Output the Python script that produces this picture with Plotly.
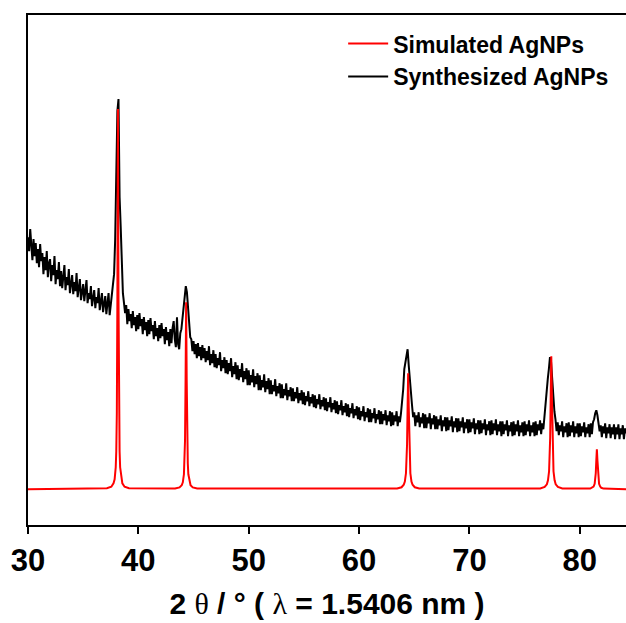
import numpy as np
import plotly.graph_objects as go

# ---------------- data ----------------
# Synthesized AgNPs: measured XRD scan, 2theta from 30.0 in 0.1 deg steps (intensity, a.u.)
scan_start = 30.0
scan_step = 0.1
synth_intensity = [
    252, 238, 260, 241, 229, 250, 233, 246, 226, 240,   # 30
    222, 245, 228, 236, 215, 232, 219, 238, 212, 226,   # 31
    230, 208, 224, 214, 233, 205, 219, 210, 227, 203,   # 32
    218, 201, 215, 224, 199, 212, 204, 220, 196, 208,   # 33
    214, 195, 207, 198, 216, 192, 203, 210, 189, 201,   # 34
    205, 188, 199, 209, 186, 196, 190, 203, 183, 194,   # 35
    199, 181, 192, 186, 201, 179, 190, 196, 177, 188,   # 36
    193, 175, 186, 196, 174, 184, 194, 205, 215, 250,   # 37
    320, 378, 390, 292, 262, 212, 196, 186, 176, 184,   # 38
    165, 180, 168, 175, 161, 178, 164, 172, 158, 174,   # 39
    160, 176, 163, 170, 155, 172, 159, 167, 153, 169,   # 40
    155, 171, 158, 164, 150, 168, 153, 161, 148, 164,   # 41
    151, 166, 153, 160, 145, 162, 149, 157, 143, 160,   # 42
    146, 161, 168, 150, 142, 172, 145, 140, 156, 160,   # 43
    172, 180, 190, 203, 197, 178, 164, 152, 150, 138,   # 44
    148, 135, 145, 131, 146, 133, 142, 129, 144, 131,   # 45
    141, 127, 138, 129, 143, 124, 135, 126, 139, 122,   # 46
    135, 121, 131, 124, 137, 118, 129, 121, 132, 116,   # 47
    129, 115, 126, 118, 131, 112, 123, 115, 127, 110,   # 48
    124, 109, 120, 112, 126, 107, 118, 110, 121, 104,   # 49
    119, 104, 114, 107, 120, 102, 113, 105, 116, 99,    # 50
    114, 99, 109, 102, 115, 97, 108, 100, 111, 95,      # 51
    109, 95, 104, 98, 110, 93, 103, 96, 106, 91,        # 52
    105, 91, 100, 94, 106, 89, 99, 93, 102, 88,         # 53
    101, 88, 97, 91, 102, 86, 96, 89, 99, 85,           # 54
    97, 84, 93, 88, 98, 83, 92, 86, 95, 82,             # 55
    94, 81, 90, 85, 95, 80, 89, 83, 92, 79,             # 56
    91, 78, 87, 82, 92, 77, 86, 80, 89, 76,             # 57
    88, 75, 84, 79, 89, 74, 83, 77, 86, 73,             # 58
    85, 72, 81, 76, 86, 71, 80, 74, 83, 70,             # 59
    82, 69, 78, 73, 83, 68, 77, 72, 81, 67,             # 60
    80, 67, 76, 71, 81, 66, 75, 70, 79, 65,             # 61
    78, 65, 75, 69, 79, 64, 74, 68, 78, 63,             # 62
    77, 64, 74, 68, 78, 63, 73, 67, 76, 86,             # 63
    100, 120, 128, 135, 140, 124, 108, 95, 84, 72,      # 64
    77, 63, 74, 67, 77, 62, 72, 66, 76, 61,             # 65
    75, 61, 72, 66, 76, 60, 71, 65, 74, 60,             # 66
    73, 60, 70, 64, 74, 58, 69, 63, 72, 58,             # 67
    72, 59, 69, 63, 73, 57, 68, 62, 71, 57,             # 68
    71, 58, 68, 62, 72, 56, 67, 61, 70, 56,             # 69
    70, 57, 67, 61, 71, 55, 66, 60, 69, 55,             # 70
    69, 56, 66, 60, 70, 54, 65, 59, 68, 54,             # 71
    69, 55, 66, 59, 70, 54, 65, 58, 68, 53,             # 72
    68, 55, 65, 59, 69, 53, 64, 58, 67, 53,             # 73
    68, 54, 65, 58, 69, 53, 64, 57, 67, 53,             # 74
    68, 54, 65, 58, 69, 53, 64, 57, 67, 53,             # 75
    68, 54, 65, 59, 69, 55, 66, 60, 75, 86,             # 76
    100, 110, 120, 132, 127, 108, 90, 78, 70, 58,       # 77
    67, 54, 64, 58, 68, 52, 63, 57, 66, 52,             # 78
    67, 53, 64, 57, 68, 52, 63, 56, 66, 52,             # 79
    66, 53, 63, 57, 67, 52, 62, 56, 65, 52,             # 80
    66, 55, 67, 70, 76, 79, 74, 66, 58, 64,             # 81
    52, 63, 56, 66, 51, 62, 56, 65, 51, 62,             # 82
    55, 65, 50, 62, 55, 65, 50, 61, 55, 64,             # 83
    50, 61, 56, 63,                                     # 84
]

# Simulated AgNPs: calculated pattern (2theta, intensity)
sim_two_theta = [
    30.0,
    37.15, 37.55, 37.75, 37.85, 37.95, 38.0, 38.05, 38.1, 38.15, 38.2, 38.25, 38.3, 38.35, 38.45, 38.55, 38.75, 39.15,
    43.33, 43.73, 43.93, 44.03, 44.13, 44.18, 44.23, 44.28, 44.33, 44.38, 44.43, 44.48, 44.53, 44.63, 44.73, 44.93, 45.33,
    63.45, 63.85, 64.05, 64.15, 64.25, 64.3, 64.35, 64.4, 64.45, 64.5, 64.55, 64.6, 64.65, 64.75, 64.85, 65.05, 65.45,
    76.42, 76.82, 77.02, 77.12, 77.22, 77.27, 77.32, 77.37, 77.42, 77.47, 77.52, 77.57, 77.62, 77.72, 77.82, 78.02, 78.42,
    80.95, 81.15, 81.25, 81.35, 81.4, 81.45, 81.5, 81.55, 81.6, 81.65, 81.7, 81.75, 81.85, 81.95, 82.15,
    84.19,
]
sim_intensity = [
    0,
    1, 2.6, 6, 10, 22, 38, 76, 190, 380, 190, 76, 38, 22, 10, 6, 2.6, 1,
    0.7, 1.9, 4, 7, 15, 26, 49, 110, 187, 110, 49, 26, 15, 7, 4, 1.9, 0.7,
    0.7, 2, 4.5, 7.7, 16, 26, 45, 83, 116, 83, 45, 26, 16, 7.7, 4.5, 2, 0.7,
    0.8, 2.3, 5, 9, 18, 29, 52, 95, 133, 95, 52, 29, 18, 9, 5, 2.3, 0.8,
    0.7, 1.5, 2.7, 5.5, 9, 16, 29, 40, 29, 16, 9, 5.5, 2.7, 1.5, 0.7,
    0,
]

x_ticks = [30, 40, 50, 60, 70, 80]
series_names = ["Simulated AgNPs", "Synthesized AgNPs"]
SERIF = "font-family:'Liberation Serif', 'DejaVu Serif', serif;font-weight:normal"
x_title = ("<b>2 </b><span style=\"" + SERIF + "\">θ</span><b> / ° ( </b>"
           "<span style=\"" + SERIF + "\">λ</span><b> = 1.5406 nm )</b>")

synth_two_theta = np.round(scan_start + scan_step * np.arange(len(synth_intensity)), 2)

# ---------------- figure ----------------
FONT = "Liberation Sans, Arial, sans-serif"

fig = go.Figure()
fig.add_trace(go.Scatter(
    x=synth_two_theta, y=synth_intensity, mode="lines", name=series_names[1],
    line=dict(color="black", width=2),
))
fig.add_trace(go.Scatter(
    x=sim_two_theta, y=sim_intensity, mode="lines", name=series_names[0],
    line=dict(color="#ff0000", width=2),
))

fig.update_layout(
    width=626, height=623,
    margin=dict(l=28, r=0, t=15, b=98),
    paper_bgcolor="white", plot_bgcolor="white",
    font=dict(family=FONT, color="black"),
    showlegend=True,
    legend=dict(
        traceorder="reversed",
        x=0.527, xanchor="left", y=0.986, yanchor="top",
        bgcolor="rgba(0,0,0,0)",
        font=dict(family=FONT, size=23, color="black", weight="bold"),
        itemwidth=40, tracegroupgap=0,
    ),
    xaxis=dict(
        range=[30, 84.19],
        tickmode="array", tickvals=x_ticks, ticktext=[str(v) for v in x_ticks],
        ticks="outside", ticklen=7, tickwidth=2, tickcolor="black",
        showline=True, linewidth=2, linecolor="black", mirror=True,
        showgrid=False, zeroline=False,
        tickfont=dict(family=FONT, size=31, color="black", weight="bold"),
        title=dict(text=x_title, font=dict(family=FONT, size=30, color="black"), standoff=16),
    ),
    yaxis=dict(
        range=[-35.7, 474],
        showline=True, linewidth=2, linecolor="black",
        showticklabels=False, ticks="", showgrid=False, zeroline=False,
    ),
)

fig.write_html(
    "out.html",
    config={"displayModeBar": False},
    post_script="document.body.style.margin='0';document.body.style.overflow='hidden';",
)
